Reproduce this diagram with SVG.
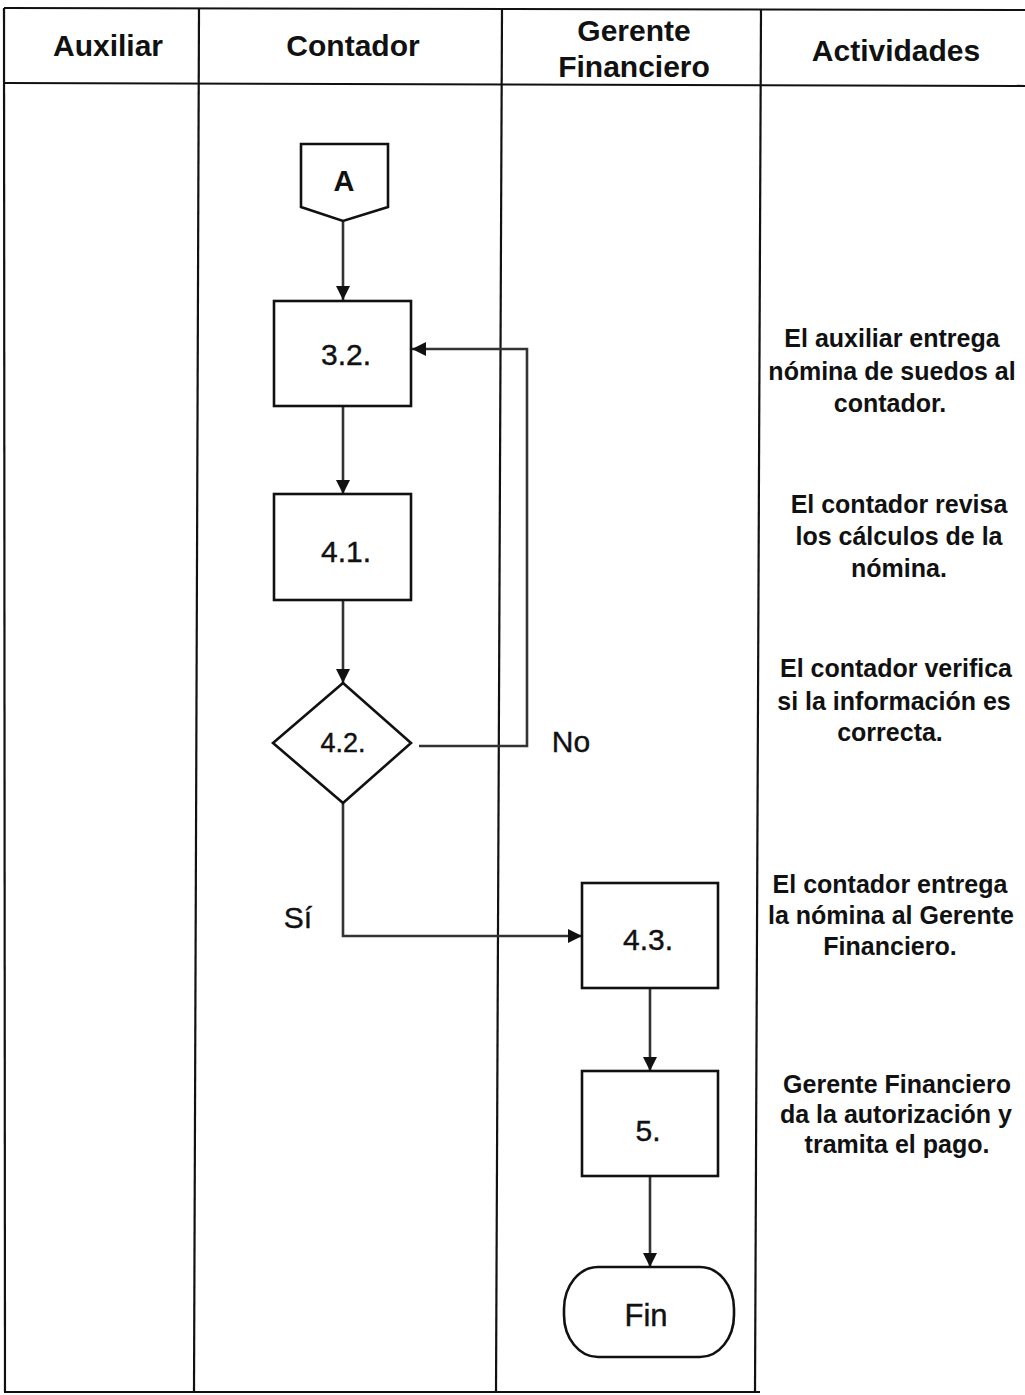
<svg xmlns="http://www.w3.org/2000/svg" width="1025" height="1395" viewBox="0 0 1025 1395">
<defs>
<style>
.tbl{stroke:#111;stroke-width:2.2;fill:none}
.hd{font-family:"Liberation Sans",Arial,sans-serif;font-weight:bold;font-size:30px;fill:#111;text-anchor:middle}
.shape{fill:#fff;stroke:#111;stroke-width:2.6}
.lbl{font-family:"Liberation Sans",Arial,sans-serif;font-size:30px;fill:#111;text-anchor:middle;stroke:#111;stroke-width:0.4}
.act{font-family:"Liberation Sans",Arial,sans-serif;font-weight:bold;font-size:25px;fill:#111;text-anchor:middle}
.conn{fill:none;stroke:#333;stroke-width:2.6}
</style>
<marker id="arr" markerUnits="userSpaceOnUse" markerWidth="14" markerHeight="14" viewBox="0 0 14 14" refX="14" refY="7" orient="auto">
<path d="M0,0 L14,7 L0,14 z" fill="#111"/>
</marker>
</defs>
<rect width="1025" height="1395" fill="#fff"/>
<g id="table">
<line class="tbl" x1="4" y1="8" x2="1025" y2="10"/>
<line class="tbl" x1="4" y1="83" x2="1025" y2="86"/>
<line class="tbl" x1="4" y1="1392" x2="760" y2="1392"/>
<line class="tbl" x1="4" y1="8" x2="5" y2="1392"/>
<line class="tbl" x1="199" y1="8" x2="194" y2="1392"/>
<line class="tbl" x1="502" y1="9" x2="496" y2="1392"/>
<line class="tbl" x1="761" y1="10" x2="755" y2="1392"/>
<text class="hd" x="108" y="56">Auxiliar</text>
<text class="hd" x="353" y="56">Contador</text>
<text class="hd" x="634" y="41">Gerente</text>
<text class="hd" x="634" y="77">Financiero</text>
<text class="hd" x="896" y="61">Actividades</text>
</g>
<g id="connectors">
<path class="conn" d="M343,222 V300" marker-end="url(#arr)"/>
<path class="conn" d="M343,406 V494" marker-end="url(#arr)"/>
<path class="conn" d="M343,600 V683" marker-end="url(#arr)"/>
<path class="conn" d="M419,746 H527 V349 H412" marker-end="url(#arr)"/>
<path class="conn" d="M343,803 V936 H582" marker-end="url(#arr)"/>
<path class="conn" d="M650,988 V1071" marker-end="url(#arr)"/>
<path class="conn" d="M650,1177 V1267" marker-end="url(#arr)"/>
<text class="lbl" x="571" y="752">No</text>
<text class="lbl" x="298" y="928">Sí</text>
</g>
<g id="nodeA">
<path class="shape" d="M301,144 H388 V207 L343,221 L301,207 Z"/>
<text class="lbl" x="344" y="191" style="font-weight:bold;font-size:29px;stroke-width:0">A</text>
</g>
<g id="node32">
<rect class="shape" x="274" y="301" width="137" height="105"/>
<text class="lbl" x="346" y="365">3.2.</text>
</g>
<g id="node41">
<rect class="shape" x="274" y="494" width="137" height="106"/>
<text class="lbl" x="346" y="562">4.1.</text>
</g>
<g id="node42">
<path class="shape" d="M343,683 L411,743 L343,803 L273,743 Z"/>
<text class="lbl" x="343" y="752" style="font-size:27px">4.2.</text>
</g>
<g id="node43">
<rect class="shape" x="582" y="883" width="136" height="105"/>
<text class="lbl" x="648" y="950">4.3.</text>
</g>
<g id="node5">
<rect class="shape" x="582" y="1071" width="136" height="105"/>
<text class="lbl" x="648" y="1141">5.</text>
</g>
<g id="nodeFin">
<rect class="shape" x="564" y="1267" width="170" height="90" rx="34" ry="42"/>
<text class="lbl" x="646" y="1326" style="font-size:31px">Fin</text>
</g>
<g id="activities">
<text class="act" x="892" y="347">El auxiliar entrega</text>
<text class="act" x="892" y="380">nómina de suedos al</text>
<text class="act" x="890" y="412">contador.</text>
<text class="act" x="899" y="513">El contador revisa</text>
<text class="act" x="899" y="545">los cálculos de la</text>
<text class="act" x="899" y="577">nómina.</text>
<text class="act" x="896" y="677">El contador verifica</text>
<text class="act" x="894" y="710">si la información es</text>
<text class="act" x="890" y="741">correcta.</text>
<text class="act" x="890" y="893">El contador entrega</text>
<text class="act" x="891" y="924">la nómina al Gerente</text>
<text class="act" x="890" y="955">Financiero.</text>
<text class="act" x="897" y="1093">Gerente Financiero</text>
<text class="act" x="896" y="1123">da la autorización y</text>
<text class="act" x="897" y="1153">tramita el pago.</text>
</g>
</svg>
